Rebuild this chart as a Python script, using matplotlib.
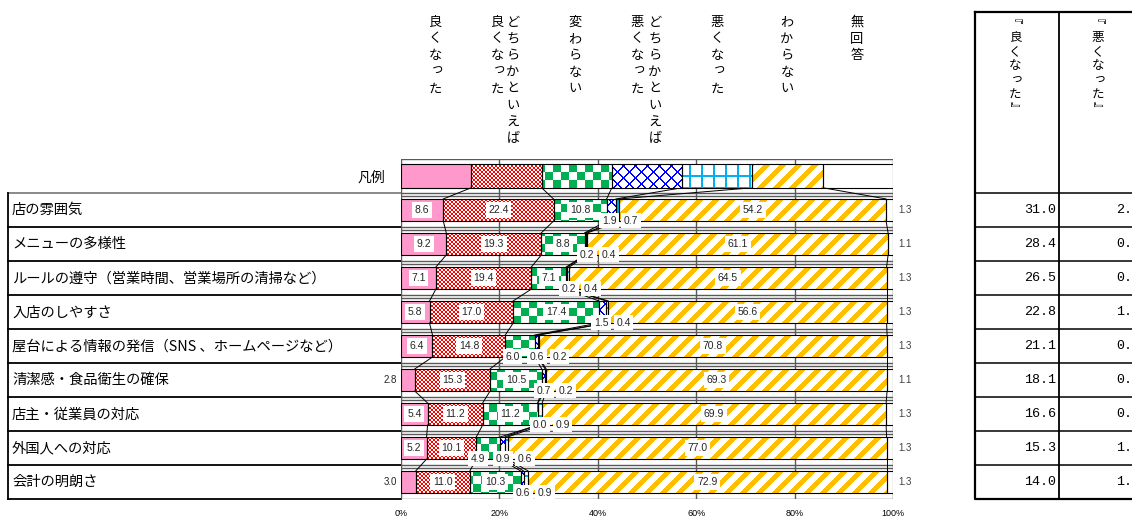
import numpy as np
import matplotlib.pyplot as plt
from matplotlib.path import Path

plt.rcParams['font.family'] = ['Noto Sans CJK JP', 'DejaVu Sans']

categories = ['店の雰囲気', 'メニューの多様性', 'ルールの遵守（営業時間、営業場所の清掃など）',
              '入店のしやすさ', '屋台による情報の発信（SNS 、ホームページなど）',
              '清潔感・食品衛生の確保', '店主・従業員の対応', '外国人への対応', '会計の明朗さ']
answers = ['良くなった', 'どちらかといえば良くなった', '変わらない', 'どちらかといえば悪くなった',
           '悪くなった', 'わからない', '無回答']

yoku = [8.6, 9.2, 7.1, 5.8, 6.4, 2.8, 5.4, 5.2, 3.0]
dochira_yoku = [22.4, 19.3, 19.4, 17.0, 14.8, 15.3, 11.2, 10.1, 11.0]
kawaranai = [10.8, 8.8, 7.1, 17.4, 6.0, 10.5, 11.2, 4.9, 10.3]
dochira_waru = [1.9, 0.2, 0.2, 1.5, 0.6, 0.7, 0.0, 0.9, 0.6]
waruku = [0.7, 0.4, 0.4, 0.4, 0.2, 0.2, 0.9, 0.6, 0.9]
wakaranai = [54.2, 61.1, 64.5, 56.6, 70.8, 69.3, 69.9, 77.0, 72.9]
mukaito = [1.3, 1.1, 1.3, 1.3, 1.3, 1.1, 1.3, 1.3, 1.3]

good_total = [31.0, 28.4, 26.5, 22.8, 21.1, 18.1, 16.6, 15.3, 14.0]
bad_total = [2.6, 0.6, 0.6, 1.9, 0.8, 0.9, 0.9, 1.5, 1.5]
table_heads = ['『良くなった』', '『悪くなった』']
legend_title = '凡例'
ticks = [0, 20, 40, 60, 80, 100]

series = [yoku, dochira_yoku, kawaranai, dochira_waru, waruku, wakaranai, mukaito]
colors = ['#FF99CC', '#FF0000', '#00B050', '#0000FF', '#00B0F0', '#FFC000', None]
patterns = [None, 'small_check', 'big_check', 'diag_cross', 'grid', 'stripe', None]

W, H = 492, 340  # plot area in pixels


def make_pattern(kind, color):
    i, j = np.indices((H, W))
    if kind == 'small_check':
        mask = (i // 2 + j // 2) % 2 == 0
    elif kind == 'big_check':
        mask = ((i + 3) // 8 + j // 8) % 2 == 0
    elif kind == 'diag_cross':
        mask = ((i + j) % 12 < 2) | ((i - j) % 12 < 2)
    elif kind == 'grid':
        mask = (j % 12 < 2) | ((i - 4) % 12 < 2)
    else:
        mask = (i + j) % 16 < 7
    rgb = np.array([int(color[k:k + 2], 16) for k in (1, 3, 5)], dtype=np.uint8)
    img = np.full((H, W, 3), 255, dtype=np.uint8)
    img[mask] = rgb
    return img


fig = plt.figure(figsize=(11.32, 5.17), dpi=100)
ax0 = fig.add_axes([0, 0, 1, 1])
ax0.set_xlim(0, 1132)
ax0.set_ylim(517, 0)
ax0.axis('off')

ax = fig.add_axes([401 / 1132, 18 / 517, W / 1132, H / 517])
ax.set_facecolor('none')

data = np.array(series).T
rows = np.vstack([np.full(len(answers), 100 / len(answers)), data])
lefts = np.cumsum(rows, axis=1) - rows
ys = np.arange(len(rows)) + 0.5
heights = np.array([0.69] + [0.65] * len(categories))

for k in range(len(answers)):
    fc = colors[k] if k == 0 else 'white'
    bars = ax.barh(ys, rows[:, k], left=lefts[:, k], height=heights, color=fc, lw=0, zorder=2)
    ax.barh(ys, rows[:, k], left=lefts[:, k], height=heights, fill=False,
            edgecolor='black', lw=0.8, zorder=3)
    if patterns[k]:
        paths = [b.get_path().transformed(b.get_patch_transform()) for b in bars]
        clip = Path.make_compound_path(*paths)
        im = ax.imshow(make_pattern(patterns[k], colors[k]), extent=(0, 100, 10, 0),
                       aspect='auto', interpolation='nearest', zorder=2.5)
        im.set_clip_path(clip, ax.transData)

# series lines between bars
for r in range(len(rows) - 1):
    for k in range(1, len(answers)):
        ax.plot([lefts[r, k], lefts[r + 1, k]],
                [ys[r] + heights[r] / 2, ys[r + 1] - heights[r + 1] / 2],
                color='black', lw=0.7, zorder=2.2)

# grid lines
for t in ticks:
    ax.axvline(t, color='#595959', lw=1, zorder=1)
for b in range(len(rows) + 1):
    ax.axhline(b, color='#595959', lw=1, zorder=1)
    if 0 < b < len(rows):
        ax.axhline(b + 0.09, color='#595959', lw=1, zorder=1)

ax.set_xlim(0, 100)
ax.set_ylim(10, 0)
for s in ax.spines.values():
    s.set_visible(False)
ax.set_yticks([])
ax.set_xticks(ticks)
ax.set_xticklabels([f'{t}%' for t in ticks], fontsize=6.5, family='Liberation Sans')
ax.tick_params(axis='x', length=0, pad=7)

# data labels
box = dict(boxstyle='square,pad=0.25', fc='white', ec='none')
lab = dict(fontsize=7.5, family='Liberation Sans', color='#262626', zorder=5)
for r in range(len(categories)):
    y = ys[r + 1]
    v = data[r]
    L = lefts[r + 1]
    x3 = L[3] + 0.5
    for k in range(len(answers)):
        txt = f'{v[k]:.1f}'
        c = L[k] + v[k] / 2
        if k == 0 and v[k] < 4:
            ax.text(-0.8, y, txt, ha='right', va='center', clip_on=False,
                    **{**lab, 'fontsize': 7})
        elif k in (0, 1, 5) or (k == 2 and v[k] >= 6.5):
            ax.text(c, y, txt, ha='center', va='center', bbox=box, **lab)
        elif k == 2:
            ax.text(x3 - 5, y + 0.32, txt, ha='center', va='center', bbox=box, **lab)
        elif k == 3:
            ax.text(x3, y + 0.32, txt, ha='center', va='center', bbox=box, **lab)
        elif k == 4:
            ax.text(x3 + 4.5, y + 0.32, txt, ha='center', va='center', bbox=box, **lab)
        else:
            ax.text(102.4, y, txt, ha='center', va='center', clip_on=False,
                    **{**lab, 'fontsize': 7, 'color': '#404040'})


# vertical headers
def vtext(x, y0, s, step, size):
    for n, ch in enumerate(s):
        dx, dy = (2, -2) if ch in 'っゃゅょ' else (0, 0)
        ax0.text(x + dx, y0 + n * step + dy, ch, ha='center', va='center', fontsize=size)


head_x = [(435,), (513, 497), (575,), (655, 637), (717,), (787,), (857,)]
for name, xs in zip(answers, head_x):
    parts = [name] if len(xs) == 1 else [name[:8], name[8:]]
    for px, part in zip(xs, parts):
        vtext(px, 22.5, part, 16.6, 9.5)

ax0.text(385, 178, legend_title, ha='right', va='center', fontsize=10)

# left table
top = 193.3
rh = 34
for r, name in enumerate(categories):
    ax0.text(12, top + rh * (r + 0.5), name, ha='left', va='center', fontsize=10.3)
for r in range(len(categories) + 1):
    ax0.plot([8, 401], [top + rh * r] * 2, color='black' if r else '#7f7f7f', lw=1.3)
ax0.plot([8, 8], [top, top + rh * len(categories)], color='black', lw=1.3)

# right table
tx0, tx1, tx2 = 975, 1059, 1143
ttop = 12
ax0.plot([tx0, tx2, tx2, tx0, tx0], [ttop, ttop, top + rh * 9, top + rh * 9, ttop],
         color='black', lw=1.6)
ax0.plot([tx1, tx1], [ttop, top + rh * 9], color='black', lw=1.3)
for r in range(len(categories)):
    ax0.plot([tx0, tx2], [top + rh * r] * 2, color='black', lw=1.1)
    yc = top + rh * (r + 0.5)
    ax0.text(tx1 - 3, yc, f'{good_total[r]:.1f}', ha='right', va='center',
             fontsize=9.6, family='Liberation Mono')
    ax0.text(tx2 - 3, yc, f'{bad_total[r]:.1f}', ha='right', va='center',
             fontsize=9.6, family='Liberation Mono')

for hx, head in zip((1015, 1098), table_heads):
    body = head[1:-1]
    ax0.text(hx - 6, 24, head[0], ha='center', va='center', fontsize=9, rotation=-90)
    vtext(hx, 37, body, 14.5, 9)
    ax0.text(hx - 1, 37 + 14.5 * len(body) - 2, head[-1], ha='center', va='center',
             fontsize=9, rotation=-90)

fig.savefig('out.png', dpi=100)
